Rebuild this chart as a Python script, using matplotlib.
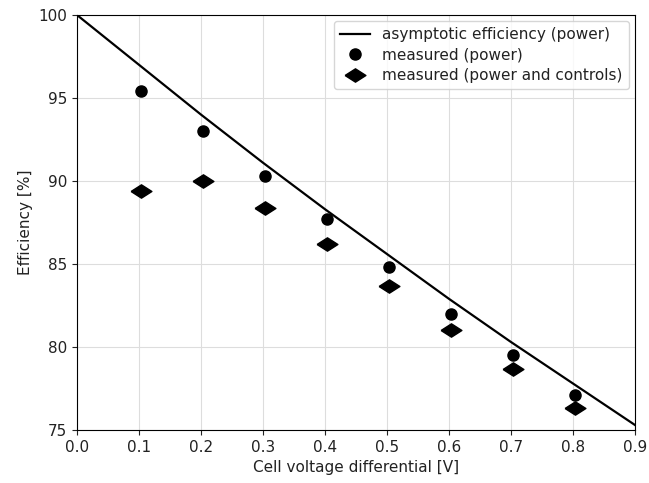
import matplotlib
matplotlib.use("Agg")
import matplotlib.pyplot as plt

line_x = [0.0, 0.1, 0.2, 0.3, 0.4, 0.5, 0.6, 0.7, 0.8, 0.9]
line_y = [100.0, 97.0, 94.0, 91.1, 88.3, 85.6, 82.9, 80.3, 77.8, 75.3]

meas_x = [0.103, 0.203, 0.303, 0.403, 0.503, 0.603, 0.703, 0.803]
meas_power = [95.4, 93.0, 90.3, 87.7, 84.8, 82.0, 79.5, 77.1]
meas_ctrl = [89.4, 90.0, 88.4, 86.2, 83.7, 81.0, 78.7, 76.3]

plt.rcParams["font.size"] = 11
plt.rcParams["text.color"] = "#222222"
plt.rcParams["axes.labelcolor"] = "#222222"
plt.rcParams["xtick.color"] = "#222222"
plt.rcParams["ytick.color"] = "#222222"

fig = plt.figure(figsize=(6.49, 4.83), dpi=100)
ax = fig.add_axes([77/649, 1 - 430/483, (635-77)/649, (430-15)/483])

diamond = [(-1, 0), (0, 0.64), (1, 0), (0, -0.64), (-1, 0)]

ax.plot(line_x, line_y, color="black", lw=1.6, label="asymptotic efficiency (power)")
ax.plot(meas_x, meas_power, "o", color="black", ms=8, ls="none", label="measured (power)")
ax.plot(meas_x, meas_ctrl, marker=diamond, color="black", ms=15, ls="none",
        label="measured (power and controls)")

ax.set_xlim(0, 0.9)
ax.set_ylim(75, 100)
ax.set_xticks([0.0, 0.1, 0.2, 0.3, 0.4, 0.5, 0.6, 0.7, 0.8, 0.9])
ax.set_yticks([75, 80, 85, 90, 95, 100])
ax.grid(True, color="#dddddd", lw=0.8)
ax.set_axisbelow(True)
ax.set_xlabel("Cell voltage differential [V]")
ax.set_ylabel("Efficiency [%]")
ax.legend(loc="upper right", borderaxespad=0.4, labelspacing=0.35)

fig.savefig("out.png", dpi=100)
